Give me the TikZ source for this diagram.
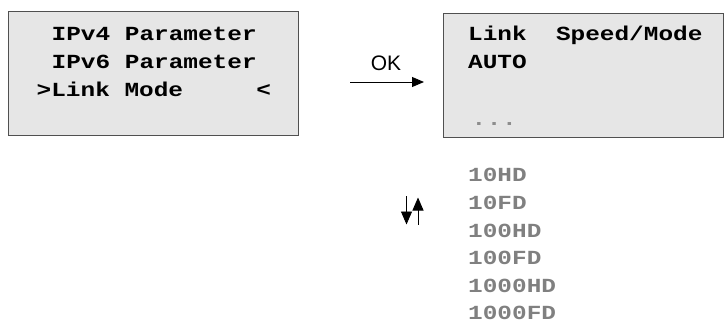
\documentclass[tikz,border=0pt]{standalone}
\usepackage{fontspec}
\setmainfont{Liberation Sans}
\newfontfamily\lcdfont[FakeStretch=1.22]{Liberation Mono}
\usetikzlibrary{arrows.meta}
\definecolor{boxfill}{RGB}{230,230,230}
\definecolor{boxline}{RGB}{80,80,80}
\definecolor{optgray}{RGB}{128,128,128}
\tikzset{
  lcdbox/.style={draw=boxline, line width=1pt, fill=boxfill},
  lcdtext/.style={anchor=base west, inner sep=0pt, font=\lcdfont\bfseries\fontsize{20}{24}\selectfont},
  opttext/.style={lcdtext, text=optgray},
  okarrow/.style={line width=0.9pt, -{Triangle[length=12pt,width=10pt]}},
  scrollarrow/.style={line width=0.9pt, -{Triangle[length=13pt,width=11pt]}}
}
\begin{document}
\begin{tikzpicture}[x=1pt,y=-1pt]
\useasboundingbox (0,0) rectangle (725,322);
% left display
\draw[lcdbox] (8.5,11) rectangle (298,135.5);
\node[lcdtext] (l1) at (51.5,40) {IPv4\ Parameter};
\node[lcdtext] (l2) at (51.5,68.3) {IPv6\ Parameter};
\node[lcdtext] (l3) at (36.5,96.7) {>Link\ Mode\ \ \ \ \ <};
% right display
\draw[lcdbox] (443,13) rectangle (723,137.5);
\node[lcdtext] (r1) at (468,40.5) {Link\ \ Speed/Mode};
\node[lcdtext] (r2) at (468,68.3) {AUTO};
\node[opttext, text=optgray!90] (r3) at (471.5,125.5) {.\kern0.6pt.\kern0.6pt.};
% OK arrow
\coordinate (okA) at (350,82);
\coordinate (okB) at (424,82);
\draw[okarrow] (okA) -- (okB);
\node[anchor=base, inner sep=0pt, font=\fontsize{21}{24}\selectfont] (ok) at (386,70) {OK};
% scroll arrows
\coordinate (dA) at (406.5,196);
\coordinate (dB) at (406.5,224.5);
\coordinate (uA) at (418,224.5);
\coordinate (uB) at (418,197.5);
\draw[scrollarrow] (dA) -- (dB);
\draw[scrollarrow] (uA) -- (uB);
% options
\node[opttext] (o1) at (468,181.7) {10HD};
\node[opttext] (o2) at (468,209.5) {10FD};
\node[opttext] (o3) at (468,237.2) {100HD};
\node[opttext] (o4) at (468,264.9) {100FD};
\node[opttext] (o5) at (468,292.6) {1000HD};
\node[opttext] (o6) at (468,319.5) {1000FD};
\end{tikzpicture}
\end{document}
